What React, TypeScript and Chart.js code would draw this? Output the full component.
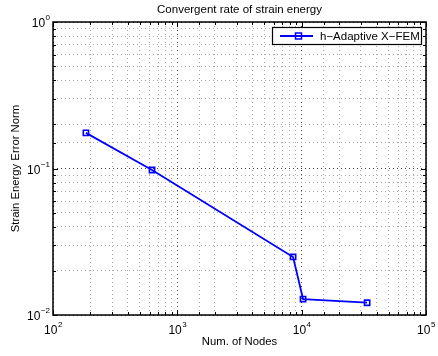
import React, { useEffect, useRef } from "react";
import { Chart, registerables } from "chart.js";

Chart.register(...registerables);

const nodes = [184, 626, 8530, 10260, 33600];
const errorNorm = [0.175, 0.0977, 0.0249, 0.01285, 0.01213];
const seriesLabel = "h\u2212Adaptive X\u2212FEM";
const chartTitle = "Convergent rate of strain energy";
const xTitle = "Num. of Nodes";
const yTitle = "Strain Energy Error Norm";
const xExponents = [2, 3, 4, 5];
const yExponents = [0, -1, -2];

const FONT = "'Liberation Sans', Arial, Helvetica, sans-serif";

function expText(e: number): string {
  return String(e).replace("-", "\u2212");
}

const decorPlugin = {
  id: "decor",
  afterDraw(chart: any) {
    const { ctx, chartArea } = chart;
    const { left, right, top, bottom } = chartArea;
    const xs = chart.scales.x;
    const ys = chart.scales.y;
    ctx.save();
    // ticks inward
    ctx.strokeStyle = "#000";
    ctx.lineWidth = 1;
    ctx.beginPath();
    xs.ticks.forEach((t: any) => {
      const px = Math.round(xs.getPixelForValue(t.value)) + 0.5;
      const len = t.major ? 5 : 3;
      ctx.moveTo(px, bottom);
      ctx.lineTo(px, bottom - len);
      ctx.moveTo(px, top);
      ctx.lineTo(px, top + len);
    });
    ys.ticks.forEach((t: any) => {
      const py = Math.round(ys.getPixelForValue(t.value)) + 0.5;
      const len = t.major ? 5 : 3;
      ctx.moveTo(left, py);
      ctx.lineTo(left + len, py);
      ctx.moveTo(right, py);
      ctx.lineTo(right - len, py);
    });
    ctx.stroke();
    // frame
    ctx.lineWidth = 1.5;
    ctx.strokeRect(left, top, right - left, bottom - top);

    // tick labels 10^n
    ctx.fillStyle = "#000";
    ctx.textBaseline = "alphabetic";
    const big = `12px ${FONT}`;
    const small = `8px ${FONT}`;
    xExponents.forEach((e) => {
      const px = xs.getPixelForValue(Math.pow(10, e));
      ctx.font = big;
      const w1 = ctx.measureText("10").width;
      ctx.font = small;
      const w2 = ctx.measureText(expText(e)).width;
      const x0 = px - (w1 + w2) / 2;
      ctx.textAlign = "left";
      ctx.font = big;
      ctx.fillText("10", x0, bottom + 19);
      ctx.font = small;
      ctx.fillText(expText(e), x0 + w1 + 0.5, bottom + 12);
    });
    yExponents.forEach((e) => {
      const py = ys.getPixelForValue(Math.pow(10, e));
      ctx.font = small;
      const w2 = ctx.measureText(expText(e)).width;
      ctx.font = big;
      const w1 = ctx.measureText("10").width;
      const xr = left - 3;
      ctx.textAlign = "left";
      ctx.fillText("10", xr - w2 - w1 - 0.5, py + 5);
      ctx.font = small;
      ctx.fillText(expText(e), xr - w2, py - 2);
    });

    // titles
    ctx.font = `11.5px ${FONT}`;
    ctx.textAlign = "center";
    ctx.textBaseline = "middle";
    ctx.fillText(chartTitle, (left + right) / 2, 10);
    ctx.font = `11.3px ${FONT}`;
    ctx.fillText(xTitle, (left + right) / 2, 342);
    ctx.save();
    ctx.translate(16, (top + bottom) / 2);
    ctx.rotate(-Math.PI / 2);
    ctx.fillText(yTitle, 0, 0);
    ctx.restore();

    // legend
    const lx = 272.5, ly = 27.5, lw = 149, lh = 17;
    ctx.fillStyle = "#fff";
    ctx.fillRect(lx, ly, lw, lh);
    ctx.lineWidth = 1.2;
    ctx.strokeStyle = "#000";
    ctx.strokeRect(lx, ly, lw, lh);
    const cy = ly + lh / 2;
    ctx.strokeStyle = "#0000ff";
    ctx.lineWidth = 1.8;
    ctx.beginPath();
    ctx.moveTo(280, cy);
    ctx.lineTo(313, cy);
    ctx.stroke();
    ctx.lineWidth = 1.5;
    ctx.strokeRect(295.5, cy - 3, 6, 6);
    ctx.fillStyle = "#000";
    ctx.font = `11.5px ${FONT}`;
    ctx.textAlign = "left";
    ctx.textBaseline = "middle";
    ctx.fillText(seriesLabel, 320, cy + 0.5);
    ctx.restore();
  },
};

export default function App() {
  const ref = useRef<HTMLCanvasElement>(null);
  useEffect(() => {
    document.body.style.margin = "0";
    const gridColor = (c: any) => (c.tick && c.tick.major ? "#444" : "#aaa");
    const chart = new Chart(ref.current!, {
      type: "line",
      data: {
        datasets: [
          {
            label: seriesLabel,
            data: nodes.map((x, i) => ({ x, y: errorNorm[i] })),
            borderColor: "#0000ff",
            borderWidth: 1.8,
            pointStyle: "rect",
            pointRadius: 3.7,
            pointBorderWidth: 1.6,
            pointBackgroundColor: "rgba(0,0,0,0)",
            pointBorderColor: "#0000ff",
            tension: 0,
          },
        ],
      },
      options: {
        responsive: false,
        animation: false,
        layout: { padding: { top: 22, right: 12, left: 0, bottom: 0 } },
        plugins: { legend: { display: false }, title: { display: false }, tooltip: { enabled: false } },
        scales: {
          x: {
            type: "logarithmic",
            min: 100,
            max: 100000,
            afterFit: (s: any) => {
              s.height = 41;
            },
            grid: { color: gridColor, lineWidth: 1, drawTicks: false },
            border: { display: false, dash: [1, 3] },
            ticks: { autoSkip: false, maxRotation: 0, display: false },
          },
          y: {
            type: "logarithmic",
            min: 0.01,
            max: 1,
            afterFit: (s: any) => {
              s.width = 53;
            },
            grid: { color: gridColor, lineWidth: 1, drawTicks: false },
            border: { display: false, dash: [1, 3] },
            ticks: { autoSkip: false, display: false },
          },
        },
      },
      plugins: [decorPlugin],
    } as any);
    return () => chart.destroy();
  }, []);
  return (
    <div style={{ width: 438, height: 356 }}>
      <canvas ref={ref} width={438} height={356} />
    </div>
  );
}
